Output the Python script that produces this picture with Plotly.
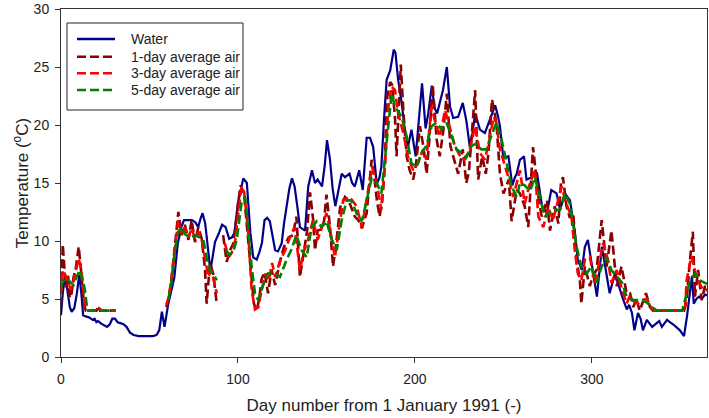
import plotly.graph_objects as go

# ---------------- data ----------------
water_day = [0, 1, 2.3, 3.5, 5, 6, 7.5, 9, 10.3, 11.5, 12.5, 14, 16, 18, 19, 20, 21, 22.5, 24, 26, 27.5,
             29, 30.5, 32, 34, 35.5, 37, 39, 41, 44, 48, 52, 54, 55.5, 57, 58.5, 60.5, 62, 64, 66, 68,
             69.5, 72, 74, 76, 77.5, 79, 80, 81.5, 82.5, 84, 84.7, 86, 87, 89, 91, 93, 95, 96.5, 98,
             100, 102, 103, 105, 106, 107, 108.6, 110.6, 112, 113.5, 115, 116.5, 118, 119.5, 121,
             122.6, 124.7, 126, 127.6, 129, 130.5, 132, 133.5, 135, 137.9, 139.7, 141.8, 143.5, 145,
             147.5, 149, 150.3, 152, 153.5, 155, 157, 158.6, 160.5, 163, 164.5, 166, 168.5, 170.5,
             172.7, 174.6, 176.4, 177.5, 178.4, 180, 181, 182.5, 184, 186, 188, 189, 190.5, 192.5,
             194, 196, 198, 200.4, 202, 204, 206, 207.5, 209.5, 211, 212.5, 214, 215.8, 218, 219.8,
             221.6, 224.4, 227, 229, 231, 232.5, 234, 236.7, 239.5, 242, 245.3, 247, 248, 249.9, 251,
             252.8, 255, 256.5, 257.5, 259.3, 261.6, 263, 266, 269, 271.8, 274.6, 277, 280, 282,
             284.7, 287.6, 290.4, 292, 294.3, 296, 297.7, 300, 302.8, 305.6, 308.5, 310, 313, 315.8,
             317.5, 319.7, 321, 322.6, 324, 326, 327.5, 328.8, 331, 334, 336.7, 338, 339.5, 342.4,
             344, 346, 349.7, 352, 353.7, 355.4, 356.5, 357.5, 359, 360.5, 362, 364, 365]
water_val = [3.6, 5.5, 7.1, 6.0, 4.3, 3.9, 4.2, 5.5, 7.1, 5.5, 3.6, 3.5, 3.4, 3.2, 3.3, 3.0, 3.1, 2.9, 2.8, 2.6, 2.8,
             3.3, 3.3, 3.0, 2.9, 2.8, 2.6, 2.1, 1.9, 1.8, 1.8, 1.8, 1.9, 2.3, 3.9, 2.6, 4.5, 5.5, 6.8, 9.8, 11.2,
             11.8, 11.8, 11.8, 11.6, 11.2, 12.0, 12.4, 11.5, 10.2, 8.0, 7.7, 8.8, 9.9, 10.6, 11.4, 11.2, 10.2, 10.3, 10.7,
             13.3, 14.8, 15.4, 15.0, 13.0, 10.7, 8.6, 8.4, 9.0, 9.8, 11.8, 12.0, 11.7, 10.5, 9.2,
             9.1, 9.8, 11.5, 13.3, 14.5, 15.4, 14.7, 13.0, 11.2, 10.9, 14.7, 16.1, 15.0, 15.3,
             14.7, 16.5, 18.7, 17.0, 14.5, 13.0, 14.5, 15.8, 15.5, 15.8, 15.0, 14.7, 16.1, 14.4,
             18.9, 18.9, 18.1, 16.5, 14.9, 15.5, 16.4, 20.5, 23.9, 24.7, 26.5, 26.2, 23.9, 21.9,
             19.9, 18.1, 19.6, 17.3, 20.0, 23.6, 19.7, 21.0, 23.4, 21.5, 21.0, 22.0, 23.0, 25.0, 21.6,
             20.6, 20.7, 21.9, 20.4, 18.1, 19.3, 21.0, 19.6, 19.3, 20.4, 21.7, 20.7, 19.9, 17.2, 17.2,
             17.3, 14.8, 15.5, 15.8, 17.0, 17.3, 15.3, 15.5, 15.8, 13.0, 12.4, 14.4, 14.1, 12.7,
             14.1, 13.5, 10.7, 8.4, 7.5, 9.5, 10.1, 7.8, 5.2, 9.5, 6.9, 5.5, 7.2, 5.8,
             5.0, 4.1, 4.5, 3.8, 2.3, 3.8, 3.3, 2.3, 3.2, 2.6, 2.9, 3.1, 2.6, 3.2,
             3.0, 2.8, 2.3, 1.8, 3.5, 5.5, 7.0, 4.6, 5.0, 5.2, 5.0, 5.4, 5.3]

air1_day = [0, 1, 2, 2.8, 4, 5, 6, 7, 8.5, 10, 11, 12, 13, 14, 16, 20, 21, 22, 31, 31.5,
            59.5, 61, 62.5, 64.4, 66.3, 68.2, 70, 72, 73.8, 75.7, 77.6, 79.5, 81.4, 82.3, 84.2, 86, 88, 89.5,
            91.6, 93.6, 95.5, 97.4, 99.5, 101.4, 103.4, 105, 107, 109, 110.5, 112, 113.3, 115, 117, 119,
            121, 124, 126, 128.6, 131, 133, 135, 137, 139, 140.7, 142.5, 143.5, 145, 147, 148.5, 150,
            152, 153.7, 155.5, 157.7, 160.5, 163, 166, 168, 170, 172.7, 175.5, 177, 178.5, 180, 181.5,
            183, 184, 186, 187, 188.7, 189.6, 192, 193.4, 195.3, 197, 199, 200.5, 202.8, 204.7, 206.6,
            208, 210, 212.3, 214, 216, 218, 220, 221.6, 224.4, 227, 229, 230.5, 232, 234, 235.7, 238,
            240, 241.5, 243.5, 246, 248, 250, 253, 254.6, 257.5, 259.3, 262, 264, 266.7, 268.7, 270,
            271.6, 274.6, 276.3, 279, 281, 282.5, 283.6, 285.6, 287.5, 289.4, 291.3, 293.2, 294, 296,
            298.8, 300.5, 302.6, 305.5, 308.3, 311, 314, 316.7, 319.6, 321.5, 323.4, 325, 327, 330.5,
            332.8, 334.5, 352, 353.5, 355.4, 357, 358.2, 360, 362, 364, 365]
air1_val = [4.3, 9.7, 7.5, 6.0, 7.0, 5.1, 5.5, 6.8, 7.8, 9.5, 8.0, 6.5, 4.5, 4.0, 4.0, 4.0, 4.4, 4.0, 4.0, None,
            4.3, 5.2, 6.8, 9.5, 12.5, 10.5, 11.4, 10.1, 11.8, 9.9, 11.2, 10.2, 7.5, 4.6, 8.1, 7.2, 4.6, None,
            10.5, 8.2, 9.2, 9.8, 12.5, 14.8, 14.1, 11.2, 7.5, 4.6, 4.0, 5.0, 6.7, 7.3, 5.5, 7.5,
            6.2, 8.4, 9.5, 10.3, 10.5, 12.1, 6.9, 9.0, 10.8, 14.2, 11.8, 9.2, 10.9, 11.0, 11.5, 14.0,
            11.2, 7.8, 9.8, 12.9, 13.8, 13.3, 12.1, 11.8, 11.1, 12.4, 17.0, 15.5, 13.5, 12.1, 13.5,
            16.5, 22.2, 23.7, 23.5, 20.7, 17.3, 25.2, 21.3, 17.3, 16.1, 15.3, 16.5, 19.9, 18.2, 15.8,
            18.5, 23.5, 18.7, 17.3, 19.5, 22.7, 18.2, 17.3, 15.8, 17.9, 15.0, 16.0, 19.0, 23.0, 15.3, 17.3,
            15.8, 17.5, 22.2, 20.2, 15.8, 14.1, 15.3, 11.7, 14.4, 14.1, 13.0, 11.2, 18.1, 15.3, 13.5,
            12.1, 13.5, 10.9, 13.0, 11.5, 15.0, 15.5, 13.0, 12.0, 12.4, 8.4, 6.6, 4.6, 7.8,
            6.1, 7.0, 7.5, 11.8, 7.8, 10.9, 6.1, 7.8, 5.5, 5.5, 4.3, 5.0, 4.0, 5.5,
            4.3, 4.0, 4.0, 4.9, 8.4, 10.8, 5.2, 7.5, 4.9, 6.2, 5.8]

air3_day = [0, 1, 2.5, 4, 5.5, 7, 8.5, 10, 11.5, 12.5, 13.5, 14.5, 20, 21.5, 23, 31, 31.5,
            59.5, 61, 62.5, 64.4, 66.3, 68, 70, 72, 73.8, 75.7, 77.6, 79.5, 81.4, 83.3, 85, 88, 89.5,
            92.6, 94.6, 96.5, 98.5, 100.4, 102, 103.5, 105.8, 107.7, 109.6, 111.5, 113.4, 115.6, 117.4,
            119.3, 121, 124, 126.7, 129.5, 132, 135, 137, 139.5, 142.4, 145, 147.5, 150, 152, 154.8,
            157, 159.4, 163, 167, 170, 172.7, 175.8, 178.4, 181, 183, 185, 186.8, 188.7, 190.5, 193.4,
            196, 199, 201.7, 204.6, 206.4, 209.4, 211, 214, 217, 220, 222.5, 225.5, 228, 231, 234,
            236.7, 239.5, 242, 244.5, 246, 248, 251, 253.7, 255.5, 258.5, 259.3, 262, 265, 267.8,
            269.7, 272.5, 275.3, 278, 281, 282.8, 285.6, 288.4, 290.3, 292, 294, 296, 298.8, 301.6,
            304.5, 306.3, 309, 311, 314, 317, 319.6, 321.5, 323.5, 326, 328, 331, 333.5, 335, 352.5,
            353.5, 355.4, 356.3, 359, 362, 365]
air3_val = [5.5, 7.5, 7.0, 6.5, 5.8, 6.5, 7.5, 8.5, 7.5, 6.0, 4.5, 4.0, 4.0, 4.2, 4.0, 4.0, None,
            4.5, 5.2, 6.9, 9.5, 11.8, 10.6, 11.2, 10.3, 11.1, 10.2, 10.8, 10.1, 8.4, 6.9, 7.5, 5.5, None,
            9.8, 8.6, 9.0, 10.1, 12.7, 14.7, 14.2, 10.7, 5.8, 4.1, 4.3, 5.8, 7.2, 6.6,
            8.1, 6.9, 8.4, 9.2, 10.4, 11.2, 7.5, 9.0, 10.1, 11.8, 10.1, 11.3, 12.4, 11.0, 8.6,
            11.0, 13.5, 13.8, 13.0, 11.2, 13.8, 16.4, 15.0, 12.7, 16.4, 21.6, 23.3, 23.0, 21.0, 19.3,
            17.3, 16.1, 16.7, 17.9, 17.0, 21.6, 20.5, 19.0, 21.3, 19.6, 18.2, 17.3, 17.0, 17.9, 19.9,
            17.6, 17.0, 18.7, 20.7, 20.2, 17.9, 16.4, 15.0, 13.8, 15.6, 16.1, 13.2, 15.0, 16.1,
            12.1, 11.2, 12.9, 11.8, 13.5, 14.7, 13.2, 12.1, 9.2, 7.2, 6.6, 8.4, 8.6, 6.4,
            8.4, 9.8, 8.4, 6.4, 7.5, 5.8, 4.6, 5.3, 4.8, 4.6, 4.9, 5.0, 4.3, 4.0, 4.0,
            6.6, 8.1, 8.7, 6.9, 6.0, 5.7]

air5_day = [0, 1, 3, 5, 7, 8.5, 10.7, 12, 13.5, 14.5, 15.4, 31, 31.5,
            60.6, 62.5, 64.4, 66.3, 68.2, 70, 73, 75.7, 78.5, 80.4, 82.3, 84.2, 87, 88, 89.5,
            93, 95.5, 97.5, 99.3, 102, 104, 105.8, 107.7, 109.6, 111.4, 114, 117, 121, 123.7, 127.5,
            130, 133, 136, 138.8, 141.6, 144.5, 147.3, 150, 153, 155.8, 158.6, 161.4, 164, 167, 170,
            172.7, 175.5, 178.4, 181, 183, 185, 186.8, 188.7, 191.5, 192.5, 195.3, 198, 201, 203.6,
            206.4, 209.4, 212, 215, 217.8, 220.7, 223.5, 226.4, 229, 232, 234.6, 237.5, 240.4, 243,
            246, 249, 251.8, 254.6, 257.5, 259.3, 262, 265, 267.8, 270.6, 273.4, 276, 279, 282,
            284.7, 287.6, 289.4, 291.3, 294, 297, 299.8, 302.6, 305.5, 308.3, 311, 314, 317, 319.6,
            323.4, 328, 331, 334, 336.7, 351, 352.5, 355.4, 358.2, 361, 365]
air5_val = [6.0, 6.5, 6.8, 6.5, 6.2, 6.8, 7.5, 6.8, 5.8, 4.5, 4.0, 4.0, None,
            4.9, 6.6, 9.2, 10.8, 11.2, 10.6, 10.3, 10.5, 10.3, 10.1, 8.6, 7.5, 6.9, 6.6, None,
            9.2, 8.8, 9.2, 10.1, 13.3, 13.8, 11.2, 7.8, 5.5, 4.9, 6.1, 7.2, 7.1, 6.9, 8.4,
            9.2, 10.5, 9.2, 8.6, 11.2, 11.7, 11.2, 11.7, 10.1, 9.2, 11.8, 13.5, 13.5, 12.4, 11.7,
            13.5, 15.4, 15.0, 14.1, 17.0, 20.2, 22.7, 21.6, 21.0, 20.7, 19.0, 16.7, 16.4, 17.6,
            18.2, 19.9, 20.2, 19.6, 20.2, 19.0, 17.9, 17.6, 17.2, 18.2, 18.4, 17.9, 17.9, 19.0,
            20.2, 18.7, 16.7, 14.7, 13.8, 15.0, 14.8, 14.3, 15.5, 13.8, 12.1, 12.5, 12.7, 12.7,
            14.1, 13.2, 11.2, 9.5, 7.8, 7.2, 7.8, 6.4, 7.8, 8.6, 7.5, 6.9, 6.4, 5.2,
            4.9, 4.9, 4.7, 4.3, 4.0, 4.0, 4.9, 6.6, 7.2, 6.6, 6.3]

series_names = ["Water", "1-day average air", "3-day average air", "5-day average air"]
series_colors = ["#00008B", "#8B0000", "#FF0000", "#008000"]
series_dash = ["solid", "9px,4px", "9px,4px", "9px,4px"]
x_ticks = [0, 100, 200, 300]
y_ticks = [0, 5, 10, 15, 20, 25, 30]

# ---------------- figure ----------------
FONT = "Liberation Sans, Arial, sans-serif"
TXT = "#222222"
fig = go.Figure()
xs = [water_day, air1_day, air3_day, air5_day]
ys = [water_val, air1_val, air3_val, air5_val]
widths = [2.2, 2.6, 2.6, 2.6]
for xd, yd, nm, col, ds, w in zip(xs, ys, series_names, series_colors, series_dash, widths):
    fig.add_trace(go.Scatter(x=xd, y=yd, mode="lines", name=nm, showlegend=False,
                             line=dict(color=col, width=w, dash=ds)))

# legend drawn as a box with sample lines and text (paper coordinates)
PL, PR, PT, PB = 61, 707, 9, 357
def px_x(p):
    return (p - PL) / (PR - PL)
def px_y(p):
    return (PB - p) / (PB - PT)

fig.add_shape(type="rect", xref="paper", yref="paper",
              x0=px_x(67), x1=px_x(243), y0=px_y(110), y1=px_y(23),
              line=dict(color=TXT, width=1), fillcolor="white", layer="above")
row_y = [39, 56.7, 73.3, 90]
for ry, nm, col, ds in zip(row_y, series_names, series_colors, series_dash):
    fig.add_shape(type="line", xref="paper", yref="paper",
                  x0=px_x(77), x1=px_x(115), y0=px_y(ry), y1=px_y(ry),
                  line=dict(color=col, width=2.4 if ds == "solid" else 2.6, dash=ds), layer="above")
    fig.add_annotation(xref="paper", yref="paper", x=px_x(129), y=px_y(ry),
                       xanchor="left", yanchor="middle", text=nm, showarrow=False,
                       font=dict(family=FONT, size=14, color=TXT))

axis_common = dict(showline=True, linecolor="#333333", linewidth=1, mirror=True,
                   ticks="outside", ticklen=5, tickcolor="#333333", showgrid=False,
                   zeroline=False, tickfont=dict(family=FONT, size=14, color=TXT))
fig.update_xaxes(range=[0, 365], tickvals=x_ticks, ticklabelstandoff=4,
                 title=dict(text="Day number from 1 January 1991 (-)",
                            font=dict(family=FONT, size=17, color=TXT), standoff=13),
                 **axis_common)
fig.update_yaxes(range=[0, 30], tickvals=y_ticks, ticklabelstandoff=3,
                 title=dict(text="Temperature (<sup>o</sup>C)",
                            font=dict(family=FONT, size=17, color=TXT), standoff=0),
                 **axis_common)

fig.update_layout(
    width=709, height=418,
    margin=dict(l=PL, r=709 - PR, t=PT, b=418 - PB, autoexpand=False),
    plot_bgcolor="white", paper_bgcolor="white",
    showlegend=False,
)
fig.write_html("out.html", config={"displayModeBar": False, "staticPlot": True},
               post_script="document.body.style.margin='0';")
